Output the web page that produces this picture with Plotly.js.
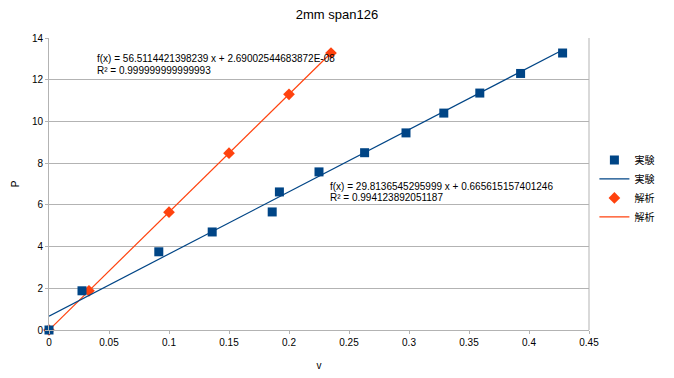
<!DOCTYPE html>
<html><head><meta charset="utf-8">
<script src="https://cdn.plot.ly/plotly-3.0.1.min.js"></script>
<style>body{margin:0;padding:0;background:#fff}#chart{width:674px;height:378px}</style>
</head><body><div id="chart"></div>
<script>
const expV = [0, 0.0275, 0.0915, 0.136, 0.186, 0.192, 0.225, 0.263, 0.2975, 0.329, 0.359, 0.393, 0.428];
const expP = [0, 1.88, 3.75, 4.70, 5.66, 6.62, 7.58, 8.50, 9.45, 10.40, 11.36, 12.30, 13.28];
const anaV = [0, 0.0333, 0.1, 0.15, 0.2, 0.235];
const anaP = [0, 1.88, 5.65, 8.48, 11.30, 13.28];
const expSlope = 29.8136545295999, expIntercept = 0.665615157401246;
const anaSlope = 56.5114421398239, anaIntercept = 2.69002544683872e-08;
const seriesNames = ['実験', '解析'];
const expEq = ['f(x) = 29.8136545295999 x + 0.665615157401246', 'R² = 0.994123892051187'];
const anaEq = ['f(x) = 56.5114421398239 x + 2.69002544683872E-08', 'R² = 0.999999999999993'];

const blue = '#004586', orange = '#ff420e';
const fitLine = (xs, m, b) => {
  const x0 = Math.min(...xs), x1 = Math.max(...xs);
  return {x: [x0, x1], y: [m * x0 + b, m * x1 + b]};
};
const expFit = fitLine(expV, expSlope, expIntercept);
const anaFit = fitLine(anaV, anaSlope, anaIntercept);

const data = [
  {x: anaFit.x, y: anaFit.y, mode: 'lines', type: 'scatter', name: seriesNames[1], showlegend: false,
   line: {color: orange, width: 1.2}, hoverinfo: 'skip'},
  {x: anaV, y: anaP, mode: 'markers', type: 'scatter', name: seriesNames[1], showlegend: false,
   marker: {symbol: 'diamond', size: 9, color: orange}, cliponaxis: false},
  {x: expV, y: expP, mode: 'markers', type: 'scatter', name: seriesNames[0],
   marker: {symbol: 'square', size: 9, color: blue}, cliponaxis: false},
  {x: expFit.x, y: expFit.y, mode: 'lines', type: 'scatter', name: seriesNames[0],
   line: {color: blue, width: 1.2}},
  {x: [null], y: [null], mode: 'markers', type: 'scatter', name: seriesNames[1],
   marker: {symbol: 'diamond', size: 9, color: orange}},
  {x: [null], y: [null], mode: 'lines', type: 'scatter', name: seriesNames[1],
   line: {color: orange, width: 1.2}}
];

const ann = (x, y, t) => ({x: x, y: y, xref: 'x', yref: 'y', text: t, showarrow: false,
  xanchor: 'left', yanchor: 'middle', align: 'left', font: {size: 10, color: '#000'}});

const layout = {
  width: 674, height: 378,
  margin: {l: 49, r: 85, t: 38, b: 48},
  paper_bgcolor: '#fff', plot_bgcolor: '#fff',
  font: {family: 'Liberation Sans, Noto Sans CJK JP, sans-serif', size: 10, color: '#000'},
  title: {text: '2mm span126', x: 0.5, xanchor: 'center', y: 0.963, yanchor: 'middle',
          font: {size: 13, color: '#000'}},
  xaxis: {range: [0, 0.45], dtick: 0.05, tick0: 0, showgrid: false, zeroline: false,
          showline: true, linecolor: '#b3b3b3', linewidth: 1, ticks: 'outside', ticklen: 3,
          tickcolor: '#b3b3b3', tickfont: {size: 10, color: '#000'},
          title: {text: 'v', font: {size: 10}, standoff: 14}},
  yaxis: {range: [0, 14], dtick: 2, tick0: 0, showgrid: true, gridcolor: '#b3b3b3', gridwidth: 1,
          zeroline: false, showline: true, linecolor: '#b3b3b3', linewidth: 1, ticks: 'outside',
          ticklen: 3, tickcolor: '#b3b3b3', tickfont: {size: 10, color: '#000'},
          title: {text: 'P', font: {size: 10}, standoff: 10}},
  showlegend: true,
  legend: {x: 1.01, y: 0.485, xanchor: 'left', yanchor: 'middle', font: {size: 10, family: 'Noto Sans CJK JP'},
           tracegroupgap: 0, itemwidth: 30, bgcolor: 'rgba(0,0,0,0)', traceorder: 'normal'},
  shapes: [{type: 'line', xref: 'paper', yref: 'paper', x0: 1, x1: 1, y0: 0, y1: 1,
            line: {color: '#b3b3b3', width: 1}}],
  annotations: [
    ann(0.0383, 13.04, anaEq[0]), ann(0.0383, 12.46, anaEq[1]),
    ann(0.2325, 6.86, expEq[0]), ann(0.2325, 6.33, expEq[1])
  ]
};
Plotly.newPlot('chart', data, layout, {displayModeBar: false, staticPlot: true});
</script></body></html>
